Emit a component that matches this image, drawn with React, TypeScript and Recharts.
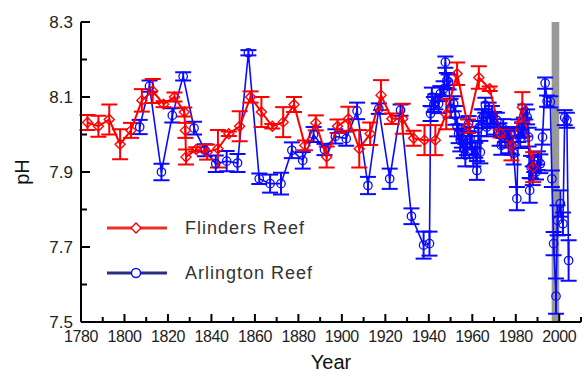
import { ComposedChart, Line, XAxis, YAxis, ErrorBar, ReferenceArea, Legend, Label } from "recharts";

const flindersYears = [1783,1788,1793,1798,1803,1808,1813,1818,1823,1827.5,1828,1828.3,1833,1838,1843,1848,1853,1858,1863,1868,1873,1878,1883,1888,1893,1898,1903,1908,1913,1918,1923,1928,1933,1938,1943,1948,1953,1958,1963,1968,1973,1978,1983,1988];
const flindersPH = [8.032,8.022,8.04,7.974,8.011,8.091,8.116,8.081,8.1,8.06,8.011,7.94,7.96,7.953,7.962,8.002,8.022,8.1,8.06,8.022,8.033,8.08,7.971,8.031,7.94,8.022,8.042,7.962,8.002,8.105,8.042,8.042,7.99,7.985,7.985,8.054,8.162,8.022,8.152,8.122,8.002,7.971,8.073,7.913];
const flindersErr = [0.02,0.028,0.04,0.04,0.02,0.03,0.032,0.008,0.012,0.012,0.02,0.02,0.006,0.02,0.05,0.006,0.04,0.015,0.04,0.006,0.04,0.02,0.013,0.02,0.028,0.018,0.032,0.05,0.03,0.04,0.014,0.04,0.02,0.04,0.04,0.04,0.03,0.018,0.03,0.006,0.01,0.04,0.04,0.04];

const arlingtonYears = [1807,1811.5,1817,1822,1827,1832,1837,1842,1847,1852,1857,1862,1867,1872,1877,1882,1887,1892,1897,1902,1907,1912,1917,1922,1927,1932,1937.6,1940.3,
  1940.8,1941.4,1942.3,1943,1944.5,1945.3,1946.8,1947.6,1948.3,1949.1,1950,1951.4,1952.2,1953,1953.7,1954.5,1955.2,1956,1956.8,1957.5,1958.3,1959,1959.8,1960.5,1961.4,1962.1,1962.8,1963.7,1964.4,1965.2,1966,1966.7,1967.5,1968.3,1969,1970,1971.3,1972.5,1973.3,1974.2,1975,1976,1976.7,1977.5,1978.2,1979,1980.5,1981.2,1982,1982.9,1983.7,1984.4,1985.2,1985.9,1986.4,1987,1987.8,1988.5,1989.3,1990.2,1991.3,1992.3,1993.5,1994.4,1995.9,1996.6,1997.4,1998.5,1999.2,2000.5,2001.7,2002.5,2003.5,2004.3];
const arlingtonPH = [8.02,8.129,7.9,8.051,8.155,8.017,7.958,7.922,7.929,7.924,8.218,7.882,7.869,7.869,7.958,7.931,8.0,7.96,7.995,7.989,8.063,7.864,8.069,7.882,8.065,7.782,7.705,7.709,
  8.056,8.1,8.08,8.087,8.082,8.109,8.122,8.193,8.144,8.14,8.07,8.082,8.051,8.02,8.002,7.985,7.99,7.962,7.945,7.97,8.029,7.99,7.971,7.94,7.958,7.904,8.016,7.953,8.042,8.047,8.078,8.02,8.065,8.04,8.051,8.03,8.038,8.0,7.971,8.016,8.0,7.99,7.98,8.0,7.971,7.95,7.829,8.01,7.989,8.011,8.02,8.06,8.047,7.993,7.851,7.913,7.89,7.92,7.9,7.93,7.922,7.993,8.137,8.089,8.087,7.882,7.709,7.569,7.771,7.816,7.762,8.045,8.038,7.664];
const arlingtonErr = [0.019,0.015,0.022,0.019,0.011,0.017,0.016,0.022,0.027,0.024,0.007,0.014,0.024,0.029,0.021,0.022,0.02,0.015,0.019,0.019,0.022,0.023,0.014,0.027,0.015,0.021,0.036,0.032,
  0.02,0.025,0.02,0.02,0.025,0.02,0.02,0.015,0.02,0.02,
  0.025,0.02,0.025,0.025,0.025,0.03,0.025,0.025,0.03,0.025,
  0.02,0.03,0.025,0.025,0.02,0.025,0.02,0.03,0.025,0.02,
  0.02,0.025,0.02,0.02,0.025,0.03,0.02,0.03,0.025,0.025,
  0.02,0.025,0.03,0.02,0.025,0.03,0.031,0.03,0.025,0.02,
  0.025,0.02,0.02,0.025,0.033,0.03,0.025,0.02,0.02,0.025,
  0.025,0.02,0.015,0.015,0.015,0.022,0.031,0.047,0.04,0.035,
  0.03,0.02,0.02,0.054];

const xTicks = [1780,1790,1800,1810,1820,1830,1840,1850,1860,1870,1880,1890,1900,1910,1920,1930,1940,1950,1960,1970,1980,1990,2000,2010];
const yTicks = [7.5,7.6,7.7,7.8,7.9,8.0,8.1,8.2,8.3];

const RED = "#ff0000";
const BLUE = "#0a0aff";
const FONT = "'Liberation Sans', Arial, sans-serif";

const flinders = flindersYears.map((year, i) => ({ year, ph: flindersPH[i], err: flindersErr[i] }));
const arlington = arlingtonYears.map((year, i) => ({ year, ph: arlingtonPH[i], err: arlingtonErr[i] }));

const XTick = (props: any) => {
  const { x, y, payload } = props;
  const major = payload.value % 20 === 0;
  return (
    <g>
      <line x1={x} x2={x} y1={y} y2={y - (major ? 8 : 5)} stroke="#000" strokeWidth={2} />
      {major && payload.value <= 2000 && (
        <text x={x} y={y + 20} textAnchor="middle" fontSize={16} fontFamily={FONT} fill="#222" letterSpacing={-0.4}>
          {payload.value}
        </text>
      )}
    </g>
  );
};

const YTick = (props: any) => {
  const { x, y, payload } = props;
  const major = Math.round(payload.value * 10) % 2 === 1;
  return (
    <g>
      <line x1={x} x2={x + (major ? 9 : 6)} y1={y} y2={y} stroke="#000" strokeWidth={2} />
      {major && (
        <text x={x - 8} y={y + 6} textAnchor="end" fontSize={17} fontFamily={FONT} fill="#222">
          {payload.value.toFixed(1)}
        </text>
      )}
    </g>
  );
};

const Diamond = (props: any) => {
  const { cx, cy, index } = props;
  if (cx == null || cy == null) return <g key={`fd-${index}`} />;
  return (
    <path key={`fd-${index}`} d={`M${cx},${cy - 5}L${cx + 5},${cy}L${cx},${cy + 5}L${cx - 5},${cy}Z`} fill="none" stroke={RED} strokeWidth={1.4} />
  );
};

const Ring = (props: any) => {
  const { cx, cy, index } = props;
  if (cx == null || cy == null) return <g key={`ad-${index}`} />;
  return <circle key={`ad-${index}`} cx={cx} cy={cy} r={4.2} fill="none" stroke={BLUE} strokeWidth={1.3} />;
};

const LegendBox = () => (
  <div style={{ fontFamily: FONT, fontSize: 18, color: "#333", letterSpacing: 1 }}>
    {[
      { name: "Flinders Reef", line: "#e8302c", mark: "diamond", markColor: RED },
      { name: "Arlington Reef", line: "#2c2c86", mark: "circle", markColor: BLUE },
    ].map((item, i) => (
      <div key={item.name} style={{ display: "flex", alignItems: "center", height: 20, marginBottom: i === 0 ? 25 : 0 }}>
        <svg width={62} height={20} style={{ display: "block" }}>
          <line x1={1} x2={61} y1={10} y2={10} stroke={item.line} strokeWidth={3} />
          {item.mark === "diamond" ? (
            <path d="M30,5L35,10L30,15L25,10Z" fill="#fff" stroke={item.markColor} strokeWidth={1.4} />
          ) : (
            <circle cx={30} cy={10} r={4.5} fill="#fff" stroke={item.markColor} strokeWidth={1.4} />
          )}
        </svg>
        <span style={{ marginLeft: 17 }}>{item.name}</span>
      </div>
    ))}
  </div>
);

export default function App() {
  return (
    <div style={{ position: "absolute", left: 0, top: 0, width: 584, height: 372, background: "#fff" }}>
      <ComposedChart width={584} height={372} margin={{ top: 22, right: 3, left: 0, bottom: 0 }}>
        <ReferenceArea x1={1996.5} x2={2000} y1={7.5} y2={8.3} fill="#999999" fillOpacity={1} stroke="none" ifOverflow="visible" />
        <XAxis
          type="number"
          dataKey="year"
          domain={[1780, 2010]}
          ticks={xTicks}
          interval={0}
          height={50}
          tickSize={0}
          tickMargin={0}
          tick={<XTick />}
          axisLine={{ stroke: "#000", strokeWidth: 2 }}
          allowDataOverflow
        >
          <Label value="Year" position="insideBottom" offset={0} dy={-3} style={{ fontFamily: FONT, fontSize: 20, fill: "#111" }} />
        </XAxis>
        <YAxis
          type="number"
          dataKey="ph"
          domain={[7.5, 8.3]}
          ticks={yTicks}
          interval={0}
          width={81}
          tickSize={0}
          tickMargin={0}
          tick={<YTick />}
          axisLine={{ stroke: "#000", strokeWidth: 2 }}
          allowDataOverflow
        >
          <Label value="pH" angle={-90} position="insideLeft" offset={22} style={{ fontFamily: FONT, fontSize: 20, fill: "#111", textAnchor: "middle" }} />
        </YAxis>
        <Legend layout="vertical" align="center" verticalAlign="middle" content={<LegendBox />} wrapperStyle={{ left: 106, top: 218, width: 260 }} />
        <Line
          data={arlington}
          dataKey="ph"
          name="Arlington Reef"
          type="linear"
          stroke={BLUE}
          strokeWidth={1.6}
          dot={Ring}
          activeDot={false}
          isAnimationActive={false}
        >
          <ErrorBar dataKey="err" width={8} stroke={BLUE} strokeWidth={2} direction="y" isAnimationActive={false} />
        </Line>
        <Line
          data={flinders}
          dataKey="ph"
          name="Flinders Reef"
          type="linear"
          stroke={RED}
          strokeWidth={2}
          dot={Diamond}
          activeDot={false}
          isAnimationActive={false}
        >
          <ErrorBar dataKey="err" width={8} stroke={RED} strokeWidth={2} direction="y" isAnimationActive={false} />
        </Line>
      </ComposedChart>
    </div>
  );
}
